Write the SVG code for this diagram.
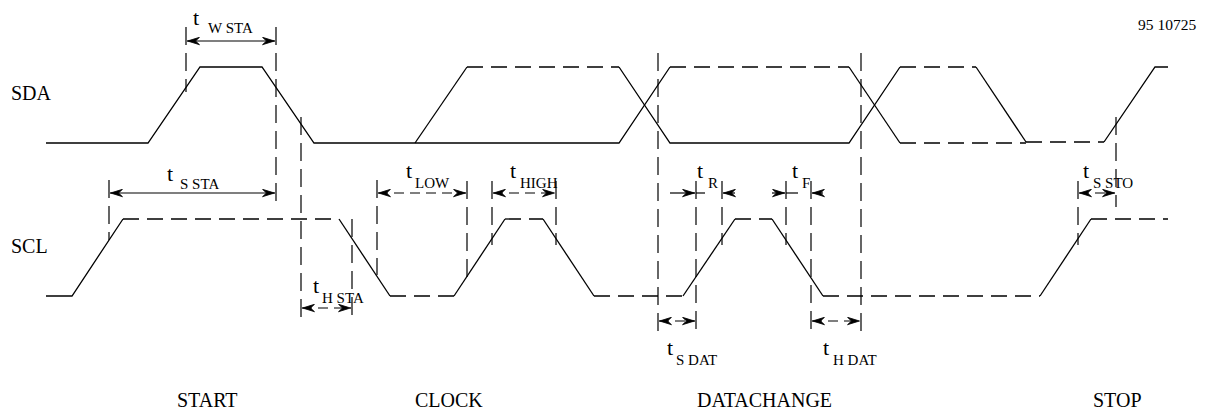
<svg xmlns="http://www.w3.org/2000/svg" width="1208" height="414" viewBox="0 0 1208 414">
<style>
  .w { fill: none; stroke: #000; stroke-width: 1.3; }
  .wd { fill: none; stroke: #000; stroke-width: 1.3; stroke-dasharray: 16 8; }
  .v { fill: none; stroke: #000; stroke-width: 1.2; stroke-dasharray: 18 8; }
  .a { fill: none; stroke: #000; stroke-width: 1.2; }
  .ad { fill: none; stroke: #000; stroke-width: 1.2; stroke-dasharray: 10 6; }
  .lbl { font-family: "Liberation Serif", "Times New Roman", serif; font-size: 20px; fill: #000; }
  .t { font-family: "Liberation Serif", "Times New Roman", serif; font-size: 22px; fill: #000; }
  .s { font-family: "Liberation Serif", "Times New Roman", serif; font-size: 15px; fill: #000; }
</style>
<defs>
  <marker id="ah" viewBox="0 0 13 9" refX="13" refY="4.5" markerWidth="13" markerHeight="9" markerUnits="userSpaceOnUse" orient="auto-start-reverse">
    <path d="M0.5,0.8 L12.5,4.5 L0.5,8.2 L4.5,4.5 Z" fill="#000" stroke="#000" stroke-width="0.8" stroke-linejoin="miter"/>
  </marker>
</defs>
<rect width="1208" height="414" fill="#fff"/>

<g id="ref-number"><text class="s" x="1138" y="30" style="font-size:15.5px">95 10725</text></g>

<g id="signal-names">
  <text class="lbl" x="11" y="100">SDA</text>
  <text class="lbl" x="11" y="253">SCL</text>
</g>

<g id="phase-names">
  <text class="lbl" x="177" y="407">START</text>
  <text class="lbl" x="415" y="407">CLOCK</text>
  <text class="lbl" x="697" y="407">DATACHANGE</text>
  <text class="lbl" x="1093" y="407">STOP</text>
</g>

<g id="sda">
  <path class="w" d="M46,143 H148 L200,67 H262 L314,143 H619 L670,67"/>
  <path class="w" d="M415,143 L467,67"/>
  <path class="wd" d="M467,67 H619"/>
  <path class="w" d="M619,67 L670,143 H849 L900,67"/>
  <path class="wd" d="M670,67 H849"/>
  <path class="w" d="M849,67 L900,143"/>
  <path class="wd" d="M900,67 H976"/>
  <path class="w" d="M976,67 L1026,142"/>
  <path class="wd" d="M900,143 H1026"/>
  <path class="wd" d="M1026,142 H1104" style="stroke-width:1.7"/>
  <path class="w" d="M1104,142 L1155,67 H1168"/>
</g>

<g id="scl">
  <path class="w" d="M46,296 H72 L123,219"/>
  <path class="wd" d="M123,219 H339"/>
  <path class="w" d="M339,219 L390,296"/>
  <path class="wd" d="M390,296 H454"/>
  <path class="w" d="M454,296 L505,219"/>
  <path class="wd" d="M505,219 H543"/>
  <path class="w" d="M543,219 L594,296"/>
  <path class="wd" d="M594,296 H683"/>
  <path class="w" d="M683,296 L735,219"/>
  <path class="wd" d="M735,219 H772"/>
  <path class="w" d="M772,219 L823,296"/>
  <path class="wd" d="M823,296 H1040"/>
  <path class="w" d="M1040,296 L1091,219"/>
  <path class="wd" d="M1091,219 H1168"/>
</g>

<g id="guides">
  <line class="v" x1="186" y1="27" x2="186" y2="92"/>
  <line class="v" x1="276" y1="27" x2="276" y2="206"/>
  <line class="v" x1="301" y1="117" x2="301" y2="320"/>
  <line class="v" x1="109" y1="180" x2="109" y2="240"/>
  <line class="v" x1="352" y1="219" x2="352" y2="321"/>
  <line class="v" x1="377" y1="180" x2="377" y2="275"/>
  <line class="v" x1="467" y1="181" x2="467" y2="283"/>
  <line class="v" x1="492" y1="181" x2="492" y2="245"/>
  <line class="v" x1="556" y1="181" x2="556" y2="245"/>
  <line class="v" x1="658" y1="53" x2="658" y2="333"/>
  <line class="v" x1="696" y1="181" x2="696" y2="333"/>
  <line class="v" x1="722" y1="181" x2="722" y2="245"/>
  <line class="v" x1="786" y1="181" x2="786" y2="245"/>
  <line class="v" x1="811" y1="181" x2="811" y2="333"/>
  <line class="v" x1="861" y1="53" x2="861" y2="333"/>
  <line class="v" x1="1078" y1="181" x2="1078" y2="245"/>
  <line class="v" x1="1116" y1="117" x2="1116" y2="207"/>
</g>

<g id="timing-arrows">
  <line class="a" x1="187" y1="41" x2="275" y2="41" marker-start="url(#ah)" marker-end="url(#ah)"/>
  <line class="a" x1="110" y1="193" x2="275" y2="193" marker-start="url(#ah)" marker-end="url(#ah)"/>
  <line class="ad" x1="302" y1="308" x2="351" y2="308" marker-start="url(#ah)" marker-end="url(#ah)"/>
  <line class="ad" x1="378" y1="193" x2="466" y2="193" marker-start="url(#ah)" marker-end="url(#ah)"/>
  <line class="ad" x1="493" y1="193" x2="555" y2="193" marker-start="url(#ah)" marker-end="url(#ah)"/>
  <line class="a" x1="670" y1="193" x2="695" y2="193" marker-end="url(#ah)"/>
  <line class="a" x1="696" y1="193" x2="705" y2="193"/>
  <line class="a" x1="735" y1="193" x2="723" y2="193" marker-end="url(#ah)"/>
  <line class="a" x1="772" y1="193" x2="785" y2="193" marker-end="url(#ah)"/>
  <line class="a" x1="786" y1="193" x2="798" y2="193"/>
  <line class="a" x1="823" y1="193" x2="812" y2="193" marker-end="url(#ah)"/>
  <line class="ad" x1="659" y1="321" x2="695" y2="321" marker-start="url(#ah)" marker-end="url(#ah)"/>
  <line class="ad" x1="812" y1="321" x2="860" y2="321" marker-start="url(#ah)" marker-end="url(#ah)"/>
  <line class="ad" x1="1079" y1="193" x2="1115" y2="193" marker-start="url(#ah)" marker-end="url(#ah)"/>
</g>

<g id="timing-labels">
  <g id="lbl-twsta"><text class="t" x="193" y="25">t</text><text class="s" x="208" y="33">W STA</text></g>
  <g id="lbl-tssta"><text class="t" x="167" y="181">t</text><text class="s" x="180" y="189">S STA</text></g>
  <g id="lbl-thsta"><text class="t" x="313" y="293">t</text><text class="s" x="322" y="303">H STA</text></g>
  <g id="lbl-tlow"><text class="t" x="406" y="178">t</text><text class="s" x="415" y="188">LOW</text></g>
  <g id="lbl-thigh"><text class="t" x="510" y="178">t</text><text class="s" x="520" y="188">HIGH</text></g>
  <g id="lbl-tr"><text class="t" x="697" y="178">t</text><text class="s" x="708" y="188">R</text></g>
  <g id="lbl-tf"><text class="t" x="792" y="178">t</text><text class="s" x="802" y="188">F</text></g>
  <g id="lbl-tsdat"><text class="t" x="667" y="355">t</text><text class="s" x="676" y="365">S DAT</text></g>
  <g id="lbl-thdat"><text class="t" x="823" y="355">t</text><text class="s" x="833" y="365">H DAT</text></g>
  <g id="lbl-tssto"><text class="t" x="1083" y="178">t</text><text class="s" x="1093" y="188">S STO</text></g>
</g>
</svg>
